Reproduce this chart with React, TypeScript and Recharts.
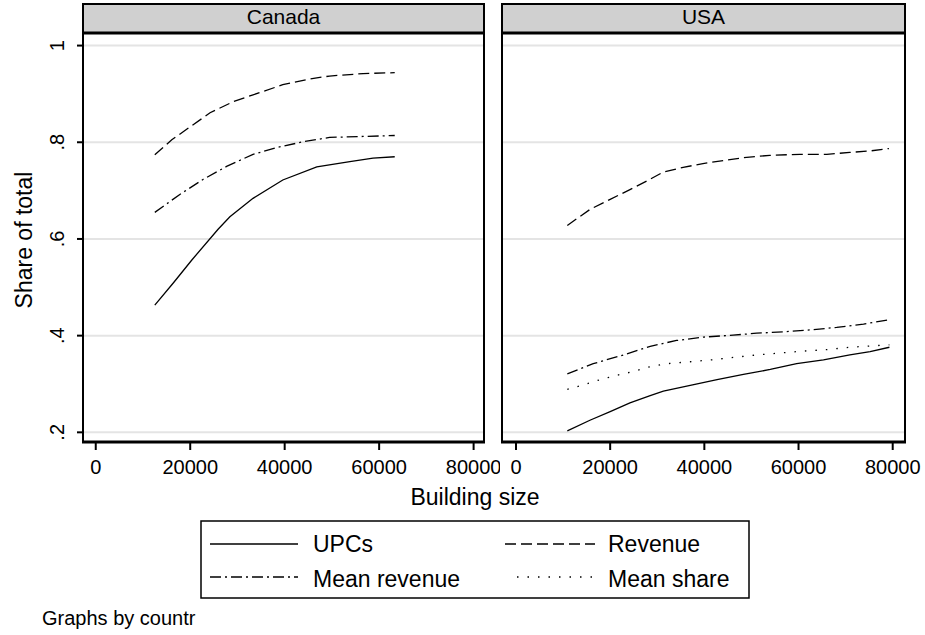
import { LineChart, Line, XAxis, YAxis, CartesianGrid } from 'recharts';

// building size (sq ft) vs share of total, one panel per country
const sizeTicks = [0, 20000, 40000, 60000, 80000];
const shareTicks = [0.2, 0.4, 0.6, 0.8, 1];

const canadaUpcs: [number, number][] = [
  [12500, 0.463], [16500, 0.51], [20300, 0.556], [25900, 0.62], [28400, 0.646],
  [33300, 0.684], [39600, 0.722], [46800, 0.749], [53800, 0.76], [58700, 0.767], [63300, 0.77]
];
const canadaRevenue: [number, number][] = [
  [12500, 0.774], [16100, 0.805], [20000, 0.832], [24200, 0.861], [29100, 0.884],
  [33300, 0.898], [39600, 0.919], [45300, 0.931], [49500, 0.937], [56600, 0.942], [63300, 0.944]
];
const canadaMeanRevenue: [number, number][] = [
  [12500, 0.655], [17800, 0.692], [22700, 0.723], [27700, 0.75], [33300, 0.775],
  [38300, 0.789], [43900, 0.801], [49500, 0.81], [56600, 0.812], [63300, 0.814]
];

const usaUpcs: [number, number][] = [
  [10900, 0.203], [15700, 0.225], [20000, 0.243], [24200, 0.261], [28500, 0.276],
  [31300, 0.285], [37000, 0.297], [42700, 0.309], [48300, 0.32], [54000, 0.33],
  [59600, 0.342], [65300, 0.35], [70900, 0.36], [75200, 0.367], [79300, 0.376]
];
const usaRevenue: [number, number][] = [
  [10900, 0.628], [15700, 0.661], [20000, 0.682], [24200, 0.702], [27800, 0.72],
  [31200, 0.738], [35500, 0.748], [39700, 0.756], [44000, 0.762], [48200, 0.768],
  [53900, 0.773], [60300, 0.775], [66000, 0.775], [70900, 0.779], [75200, 0.782], [79200, 0.787]
];
const usaMeanRevenue: [number, number][] = [
  [10900, 0.321], [16400, 0.342], [22800, 0.36], [28500, 0.378], [34100, 0.39],
  [39800, 0.397], [46100, 0.401], [51100, 0.405], [56800, 0.408], [62500, 0.412],
  [68100, 0.417], [73800, 0.424], [79300, 0.433]
];
const usaMeanShare: [number, number][] = [
  [10900, 0.289], [14300, 0.298], [17900, 0.309], [21400, 0.318], [24600, 0.325],
  [28100, 0.335], [32000, 0.342], [37000, 0.346], [41600, 0.35], [46200, 0.355],
  [51100, 0.36], [56100, 0.364], [61000, 0.368], [66000, 0.371], [70900, 0.376],
  [75900, 0.379], [79300, 0.381]
];

const FONT = '"Liberation Sans", Arial, sans-serif';

const STYLES = {
  upcs: undefined,
  revenue: '11 5',
  meanRevenue: '11 4 2 4',
  meanShare: '1.5 9'
};

const toPoints = (pts: [number, number][]) => pts.map(([x, y]) => ({ x, y }));

type Series = { name: string; dash?: string; points: [number, number][] };

const XTick = (props: any) => (
  <text x={props.x} y={props.y} dy={22} textAnchor="middle" fontSize={20} fontFamily={FONT} fill="#000">
    {props.payload.value}
  </text>
);

const YTick = (props: any) => {
  const bx = props.x - 11;
  return (
    <text
      x={bx}
      y={props.y}
      transform={`rotate(-90 ${bx} ${props.y})`}
      textAnchor="middle"
      fontSize={20}
      fontFamily={FONT}
      fill="#000"
    >
      {String(props.payload.value).replace(/^0\./, '.')}
    </text>
  );
};

function Panel({ left, width, plotLeft, domain, series, showY }: {
  left: number; width: number; plotLeft: number; domain: [number, number]; series: Series[]; showY: boolean;
}) {
  return (
    <div style={{ position: 'absolute', left, top: 0 }}>
      <LineChart width={width} height={480} margin={{ top: 33, right: width - plotLeft - (showY ? 401 : 403), left: showY ? 0 : plotLeft, bottom: 0 }}>
        <CartesianGrid horizontal vertical={false} stroke="#e4e4e4" strokeWidth={2} />
        <XAxis
          type="number"
          dataKey="x"
          domain={domain}
          ticks={sizeTicks}
          allowDataOverflow
          axisLine={false}
          tickLine={{ stroke: '#000', strokeWidth: 2 }}
          tickSize={8}
          tickMargin={2}
          height={38}
          tick={<XTick />}
          interval={0}
        />
        <YAxis
          type="number"
          dataKey="y"
          domain={[0.18, 1.026]}
          ticks={shareTicks}
          allowDataOverflow
          axisLine={false}
          tickLine={{ stroke: '#000', strokeWidth: 2 }}
          tickSize={6}
          tickMargin={2}
          width={plotLeft}
          tick={<YTick />}
          interval={0}
          hide={!showY}
        />
        {series.map((s) => (
          <Line
            key={s.name}
            data={toPoints(s.points)}
            dataKey="y"
            type="linear"
            stroke="#000"
            strokeWidth={1.3}
            strokeDasharray={s.dash}
            dot={false}
            isAnimationActive={false}
          />
        ))}
      </LineChart>
    </div>
  );
}

const legendItems = [
  { name: 'UPCs', dash: STYLES.upcs, lx: 210, lx2: 298, ly: 544, tx: 313, ty: 552 },
  { name: 'Revenue', dash: STYLES.revenue, lx: 505, lx2: 595, ly: 544, tx: 608, ty: 552 },
  { name: 'Mean revenue', dash: STYLES.meanRevenue, lx: 210, lx2: 298, ly: 577, tx: 313, ty: 587 },
  { name: 'Mean share', dash: STYLES.meanShare, lx: 517, lx2: 595, ly: 577, tx: 608, ty: 587 }
];

export default function App() {
  const canada: Series[] = [
    { name: 'UPCs', dash: STYLES.upcs, points: canadaUpcs },
    { name: 'Revenue', dash: STYLES.revenue, points: canadaRevenue },
    { name: 'Mean revenue', dash: STYLES.meanRevenue, points: canadaMeanRevenue }
  ];
  const usa: Series[] = [
    { name: 'UPCs', dash: STYLES.upcs, points: usaUpcs },
    { name: 'Revenue', dash: STYLES.revenue, points: usaRevenue },
    { name: 'Mean revenue', dash: STYLES.meanRevenue, points: usaMeanRevenue },
    { name: 'Mean share', dash: STYLES.meanShare, points: usaMeanShare }
  ];

  return (
    <div style={{ position: 'absolute', left: 0, top: 0, width: 925, height: 635, background: '#fff', fontFamily: FONT, overflow: 'hidden' }}>
      <Panel left={0} width={500} plotLeft={83} domain={[-2700, 82200]} series={canada} showY />
      <Panel left={419} width={506} plotLeft={83} domain={[-2970, 82610]} series={usa} showY={false} />

      <svg width={925} height={635} style={{ position: 'absolute', left: 0, top: 0, pointerEvents: 'none' }} fontFamily={FONT}>
        {[
          { title: 'Canada', x0: 83, x1: 484 },
          { title: 'USA', x0: 502, x1: 905 }
        ].map((p) => (
          <g key={p.title}>
            <rect x={p.x0} y={4} width={p.x1 - p.x0} height={29} fill="#d0d0d0" stroke="#000" strokeWidth={2} />
            <text x={(p.x0 + p.x1) / 2} y={24} textAnchor="middle" fontSize={21} fill="#000">{p.title}</text>
            <rect x={p.x0} y={33} width={p.x1 - p.x0} height={409} fill="none" stroke="#000" strokeWidth={2} />
            <line x1={p.x0 - 1} x2={p.x1 + 1} y1={33} y2={33} stroke="#000" strokeWidth={3} />
            <line x1={p.x0 - 1} x2={p.x1 + 1} y1={442} y2={442} stroke="#000" strokeWidth={3} />
          </g>
        ))}

        <text x={32} y={240} transform="rotate(-90 32 240)" textAnchor="middle" fontSize={23} fill="#000">Share of total</text>
        <text x={475} y={505} textAnchor="middle" fontSize={23} fill="#000">Building size</text>

        <rect x={201} y={521} width={548} height={77} fill="#fff" stroke="#000" strokeWidth={1.5} />
        {legendItems.map((it) => (
          <g key={it.name}>
            <line x1={it.lx} x2={it.lx2} y1={it.ly} y2={it.ly} stroke="#000" strokeWidth={1.5} strokeDasharray={it.dash} />
            <text x={it.tx} y={it.ty} fontSize={23} fill="#000">{it.name}</text>
          </g>
        ))}

        <text x={42} y={625} fontSize={20} fill="#000">Graphs by countr</text>
      </svg>
    </div>
  );
}
